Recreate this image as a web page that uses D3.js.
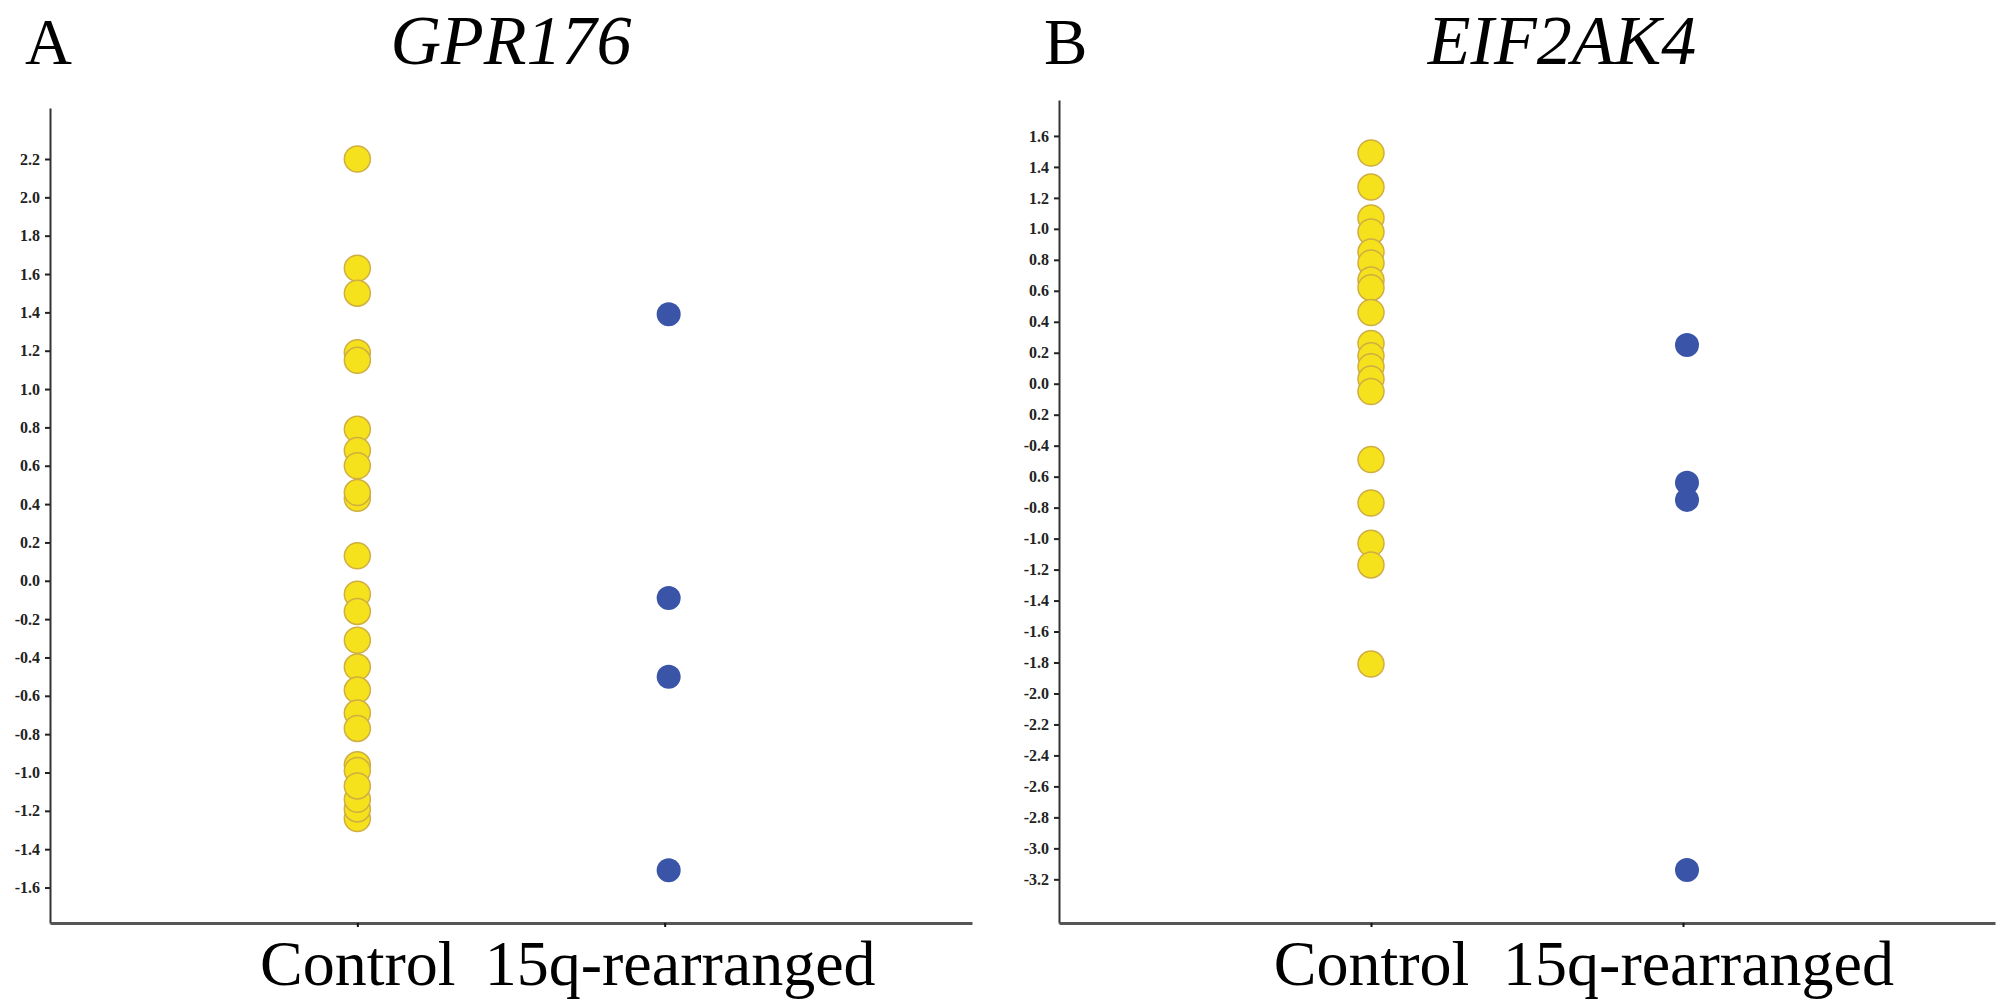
<!DOCTYPE html>
<html>
<head>
<meta charset="utf-8">
<script src="https://cdn.jsdelivr.net/npm/d3@7"></script>
<style>
  body { margin: 0; background: #fff; }
</style>
</head>
<body>
<div id="wrapper"></div>
<script>
// values
const categories = ["Control", "15q-rearranged"]

const gprControl = [2.20, 1.63, 1.50, 1.19, 1.15, 0.79, 0.68, 0.60, 0.43, 0.46,
  0.13, -0.07, -0.16, -0.31, -0.45, -0.57, -0.69, -0.77, -0.96, -0.99,
  -1.24, -1.19, -1.14, -1.07]
const gprRearranged = [1.39, -0.09, -0.50, -1.51]

const eifControl = [1.49, 1.27, 1.07, 0.98, 0.85, 0.78, 0.67, 0.62, 0.46, 0.26,
  0.18, 0.11, 0.03, -0.05, -0.49, -0.77, -1.03, -1.17, -1.81]
const eifRearranged = [0.25, -0.64, -0.75, -3.14]

const gprTicks = [2.2, 2.0, 1.8, 1.6, 1.4, 1.2, 1.0, 0.8, 0.6, 0.4, 0.2, 0,
  -0.2, -0.4, -0.6, -0.8, -1.0, -1.2, -1.4, -1.6]
const gprTickLabels = ["2.2", "2.0", "1.8", "1.6", "1.4", "1.2", "1.0", "0.8", "0.6", "0.4", "0.2", "0.0",
  "-0.2", "-0.4", "-0.6", "-0.8", "-1.0", "-1.2", "-1.4", "-1.6"]

const eifTicks = [1.6, 1.4, 1.2, 1.0, 0.8, 0.6, 0.4, 0.2, 0, -0.2, -0.4, -0.6,
  -0.8, -1.0, -1.2, -1.4, -1.6, -1.8, -2.0, -2.2, -2.4, -2.6, -2.8, -3.0, -3.2]
// the original figure prints a few of these without the minus sign
const eifTickLabels = ["1.6", "1.4", "1.2", "1.0", "0.8", "0.6", "0.4", "0.2", "0.0", "0.2", "-0.4", "0.6",
  "-0.8", "-1.0", "-1.2", "-1.4", "-1.6", "-1.8", "-2.0", "-2.2", "-2.4", "-2.6", "-2.8", "-3.0", "-3.2"]

const serif = "'Liberation Serif', 'Times New Roman', serif"

const svg = d3.select("#wrapper")
  .append("svg")
  .attr("width", 2008)
  .attr("height", 1008)

function drawPanel(opts) {
  const g = svg.append("g")

  const xScale = d3.scalePoint()
    .domain(categories)
    .range([opts.left, opts.right])
    .padding(1)

  const yScale = d3.scaleLinear()
    .domain(opts.domain)
    .range([opts.bottom, opts.top])

  // y axis
  const yAxis = g.append("g")
    .attr("transform", `translate(${opts.left},0)`)
    .call(d3.axisLeft(yScale)
      .tickValues(opts.ticks)
      .tickFormat((d, i) => opts.tickLabels[i])
      .tickSize(5)
      .tickSizeOuter(0)
      .tickPadding(5))
  yAxis.select(".domain").attr("stroke", "#333").attr("stroke-width", 2)
  yAxis.selectAll(".tick line").attr("stroke", "#222").attr("stroke-width", 2)
  yAxis.selectAll(".tick text")
    .style("font-family", serif)
    .style("font-weight", "bold")
    .style("font-size", "16px")
    .attr("fill", "#222")

  // x axis
  const xAxis = g.append("g")
    .attr("transform", `translate(0,${opts.bottom})`)
    .call(d3.axisBottom(xScale)
      .tickSize(4)
      .tickSizeOuter(0)
      .tickPadding(13))
  xAxis.select(".domain").attr("stroke", "#555").attr("stroke-width", 3)
  xAxis.selectAll(".tick line").attr("stroke", "#111").attr("stroke-width", 2)
  xAxis.selectAll(".tick text")
    .style("font-family", serif)
    .style("font-size", "64px")
    .attr("fill", "#000")
    .attr("dx", (d, i) => (i === 0 ? 0 : 15))

  // points
  g.append("g")
    .selectAll("circle")
    .data(opts.control)
    .join("circle")
    .attr("cx", xScale(categories[0]))
    .attr("cy", (d) => yScale(d))
    .attr("r", 13)
    .attr("fill", "#f6e21c")
    .attr("stroke", "#cfae42")
    .attr("stroke-width", 1.5)

  g.append("g")
    .selectAll("circle")
    .data(opts.rearranged)
    .join("circle")
    .attr("cx", xScale(categories[1]) + 4)
    .attr("cy", (d) => yScale(d))
    .attr("r", 12)
    .attr("fill", "#3a54a8")

  // panel letter and gene title
  g.append("text")
    .text(opts.letter)
    .attr("x", opts.letterX)
    .attr("y", 64)
    .style("font-family", serif)
    .style("font-size", "65px")

  g.append("text")
    .text(opts.title)
    .attr("x", opts.titleX)
    .attr("y", 64)
    .attr("text-anchor", "middle")
    .style("font-family", serif)
    .style("font-style", "italic")
    .style("font-size", "70px")
}

drawPanel({
  letter: "A",
  letterX: 25,
  title: "GPR176",
  titleX: 511,
  left: 50,
  right: 972,
  top: 108,
  bottom: 923,
  domain: [-1.785, 2.466],
  ticks: gprTicks,
  tickLabels: gprTickLabels,
  control: gprControl,
  rearranged: gprRearranged,
})

drawPanel({
  letter: "B",
  letterX: 1044,
  title: "EIF2AK4",
  titleX: 1562,
  left: 1059,
  right: 1995,
  top: 100,
  bottom: 923,
  domain: [-3.482, 1.832],
  ticks: eifTicks,
  tickLabels: eifTickLabels,
  control: eifControl,
  rearranged: eifRearranged,
})
</script>
</body>
</html>
